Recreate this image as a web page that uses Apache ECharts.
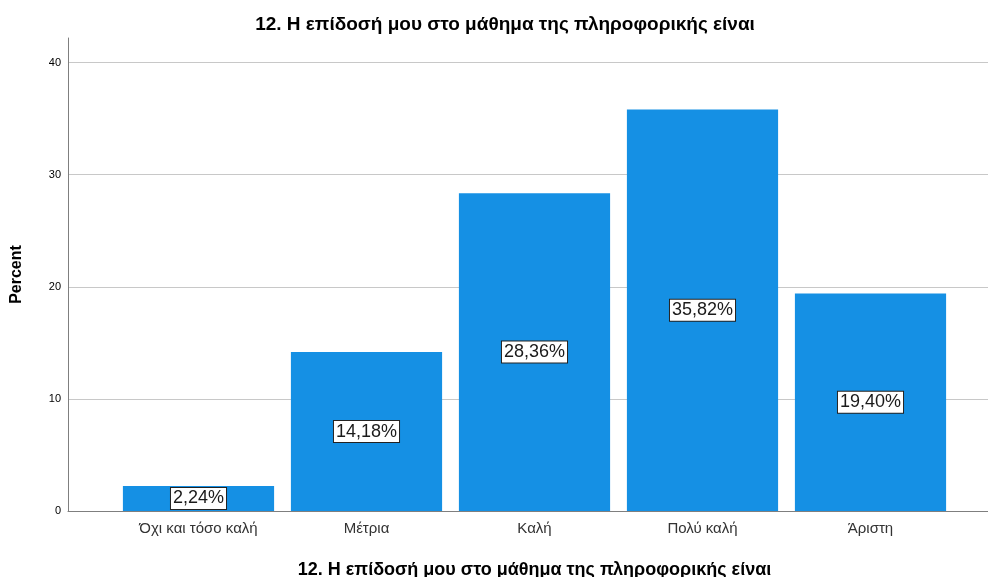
<!DOCTYPE html>
<html>
<head>
<meta charset="utf-8">
<script src="https://cdn.jsdelivr.net/npm/echarts@6/dist/echarts.min.js"></script>
<style>
  html, body { margin: 0; padding: 0; background: #fff; }
  #chart { width: 988px; height: 577px; }
</style>
</head>
<body>
<div id="chart"></div>
<script>
// Survey item and answer categories
const chartTitle = '12. Η επίδοσή μου στο μάθημα της πληροφορικής είναι';
const categories = ['Όχι και τόσο καλή', 'Μέτρια', 'Καλή', 'Πολύ καλή', 'Άριστη'];
// Percentage of respondents per answer
const percents = [2.24, 14.18, 28.36, 35.82, 19.40];
// Value axis settings
const yMin = 0;
const yMax = 42.2;
const yStep = 10;

const fontFamily = 'Arial, "Liberation Sans", sans-serif';
const chart = echarts.init(document.getElementById('chart'));

chart.setOption({
  animation: false,
  title: {
    text: chartTitle,
    left: 500,
    textAlign: 'center',
    top: 10,
    textStyle: { fontFamily, fontSize: 19, fontWeight: 'bold', color: '#000' }
  },
  grid: [
    // frame grid: y axis, gridlines, baseline
    { left: 68, right: 0, top: 38, bottom: 66, containLabel: false, outerBoundsMode: 'none' },
    // grid holding the bars
    { left: 114.5, right: 33.5, top: 38, bottom: 66, containLabel: false, outerBoundsMode: 'none' }
  ],
  xAxis: [
    {
      gridIndex: 0, type: 'value', min: 0, max: 1,
      axisLine: { show: true, lineStyle: { color: '#7f7f7f', width: 1 } },
      axisTick: { show: false }, axisLabel: { show: false }, splitLine: { show: false }
    },
    {
      gridIndex: 1, type: 'category', data: categories,
      axisLine: { show: false }, axisTick: { show: false },
      axisLabel: { fontFamily, fontSize: 15, color: '#333', margin: 10 },
      name: chartTitle, nameLocation: 'middle', nameGap: 50,
      nameTextStyle: { fontFamily, fontSize: 18, fontWeight: 'bold', color: '#000' }
    }
  ],
  yAxis: [
    {
      gridIndex: 0, type: 'value', min: yMin, max: yMax, interval: yStep,
      axisLine: { show: true, lineStyle: { color: '#7f7f7f', width: 1 } },
      axisTick: { show: false },
      axisLabel: {
        fontFamily, fontSize: 11, color: '#000', margin: 7,
        showMaxLabel: false,
        formatter: v => (v % yStep === 0 ? String(v) : '')
      },
      splitLine: { show: true, showMaxLine: false, lineStyle: { color: '#c8c8c8', width: 1 } },
      name: 'Percent', nameLocation: 'middle', nameGap: 43,
      nameTextStyle: { fontFamily, fontSize: 16, fontWeight: 'bold', color: '#000' }
    },
    {
      gridIndex: 1, type: 'value', min: yMin, max: yMax, interval: yStep,
      axisLine: { show: false }, axisTick: { show: false },
      axisLabel: { show: false }, splitLine: { show: false }
    }
  ],
  series: [{
    type: 'bar',
    xAxisIndex: 1,
    yAxisIndex: 1,
    data: percents,
    barCategoryGap: '10%',
    itemStyle: { color: '#1590e4' },
    label: {
      show: true,
      position: 'inside',
      formatter: p => p.value.toFixed(2).replace('.', ',') + '%',
      fontFamily, fontSize: 18, color: '#1a1a1a',
      backgroundColor: '#fff',
      borderColor: '#222', borderWidth: 1,
      padding: [2, 2, 1, 2]
    }
  }]
});
</script>
</body>
</html>
